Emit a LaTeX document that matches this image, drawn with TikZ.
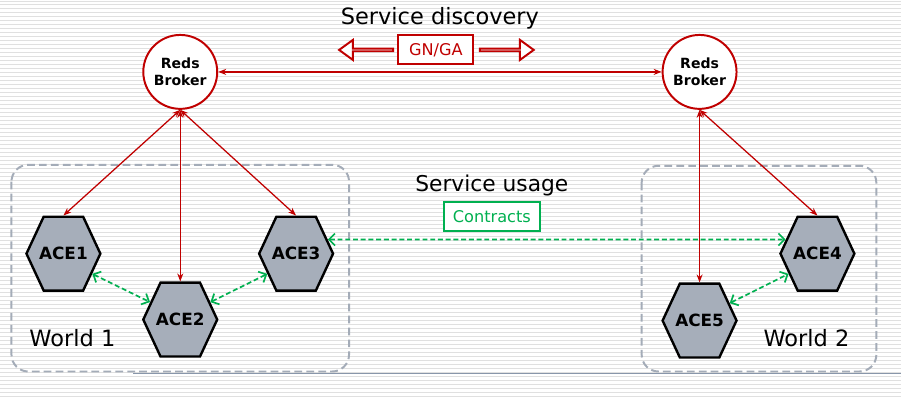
\documentclass[tikz,border=0pt]{standalone}
\usepackage{fontspec}
\setmainfont{DejaVu Sans}
\usepackage{tikz}
\usetikzlibrary{arrows.meta,positioning,shapes.symbols,shapes.arrows}
\definecolor{redsred}{RGB}{192,0,0}
\definecolor{usegreen}{RGB}{0,176,80}
\definecolor{acefill}{RGB}{166,174,186}
\definecolor{worldgray}{RGB}{164,172,184}
\definecolor{stripe}{RGB}{224,224,224}
\definecolor{rulegray}{RGB}{136,150,170}

\begin{document}
\begin{tikzpicture}[x=0.025cm,y=-0.025cm,
  broker/.style={draw=redsred,line width=1.4pt,circle,fill=white,minimum size=1.85cm,inner sep=0pt,
    align=center,font=\fontsize{10}{12}\selectfont\bfseries},
  ace/.style={signal,signal to=east and west,signal pointer angle=130,draw=black,line width=1.7pt,
    fill=acefill,minimum width=1.85cm,minimum height=1.85cm,inner sep=0pt,
    label={[font=\fontsize{12}{14}\selectfont\bfseries]center:#1}},
  world/.style={draw=worldgray,line width=1.4pt,dash pattern=on 5.5pt off 3pt,rounded corners=12pt},
  link/.style={redsred,line width=0.9pt,{Stealth[length=2mm]}-{Stealth[length=2mm]}},
  contract/.style={usegreen,line width=1.2pt,dash pattern=on 3.5pt off 2pt,
    {Straight Barb[length=1.5mm]}-{Straight Barb[length=1.5mm]}},
  tag/.style={draw,line width=1.4pt,fill=white,minimum height=0.725cm,inner sep=0pt,font=\fontsize{11.5}{13}\selectfont},
  hollow/.style={single arrow,draw=redsred,line width=1.4pt,fill=white,minimum height=1.35cm,minimum width=0.5cm,
    single arrow head extend=0.16cm,single arrow tip angle=72,inner sep=0pt}]
\fill[white] (0,0) rectangle (902,400);
\foreach \y in {1,5,...,397}
  \draw[stripe,line width=0.7pt] (0,\y) -- (902,\y);
\draw[rulegray,line width=1pt] (133,374) -- (902,374);
\draw[world] (11,165) rectangle (349,372);
\draw[world] (642,166) rectangle (877,372);

\node[anchor=base,font=\fontsize{16}{19}\selectfont] (disc) at (440,25) {Service discovery};
\node[anchor=base,font=\fontsize{15.5}{18}\selectfont] (usage) at (492,192) {Service usage};
\node[anchor=base,font=\fontsize{16}{19}\selectfont] (w1) at (72,347) {World 1};
\node[anchor=base,font=\fontsize{16}{19}\selectfont] (w2) at (807,347) {World 2};

\node[tag,draw=redsred,text=redsred,minimum width=1.875cm] (gnga) at (436,50) {GN/GA};
\node[hollow,shape border rotate=180] (arl) at (367,50) {};
\node[hollow] (arr) at (506,50) {};
\node[tag,draw=usegreen,text=usegreen,minimum width=2.4cm] (contr) at (492,217) {Contracts};

\node[broker] (lb) at (180,72) {Reds\\Broker};
\node[broker] (rb) at (700,72) {Reds\\Broker};

\node[ace=ACE1] (ace1) at (63,254) {};
\node[ace=ACE2] (ace2) at (180,320) {};
\node[ace=ACE3] (ace3) at (296,254) {};
\node[ace=ACE4] (ace4) at (818,254) {};
\node[ace=ACE5] (ace5) at (700,321) {};

\draw[link,line width=1.2pt] (lb) -- (rb);
\draw[link] (lb.south) -- (ace1.north);
\draw[link] (lb.south) -- (ace2.north);
\draw[link] (lb.south) -- (ace3.north);
\draw[link] (rb.south) -- (ace5.north);
\draw[link] (rb.south) -- (ace4.north);

\draw[contract] (ace3.24) -- (ace4.156);
\draw[contract] (ace1.-35) -- (ace2.150);
\draw[contract] (ace2.30) -- (ace3.-145);
\draw[contract] (ace5.30) -- (ace4.-145);
\end{tikzpicture}
\end{document}
